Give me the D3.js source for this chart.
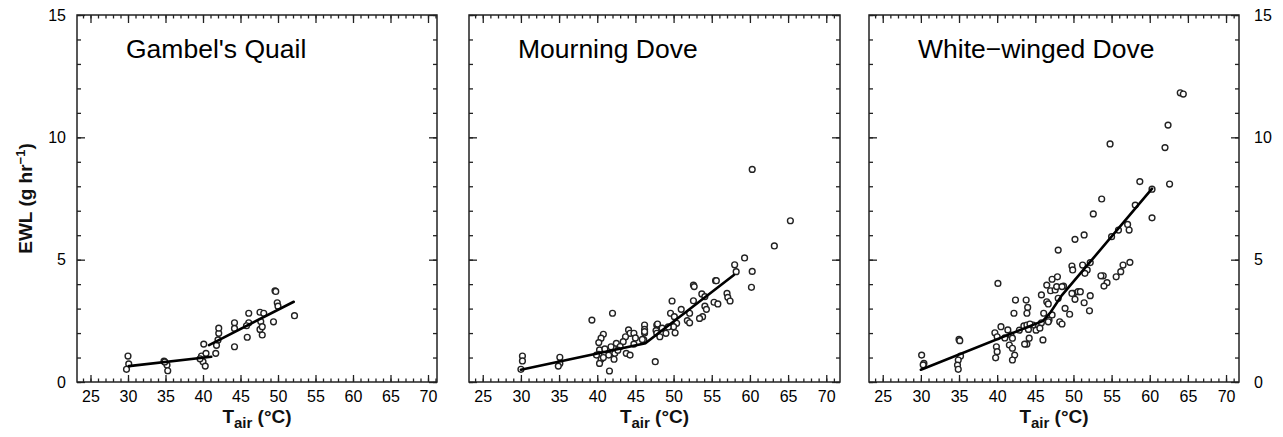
<!DOCTYPE html>
<html>
<head>
<meta charset="utf-8">
<script src="https://cdn.jsdelivr.net/npm/d3@7"></script>
<style>
  body { margin: 0; background: #fff; }
  svg { font-family: "Liberation Sans", Arial, sans-serif; }
  .frame { fill: none; stroke: #222; stroke-width: 1.5; }
  .tick line { stroke: #222; stroke-width: 1.3; }
  .domain { display: none; }
  .tick text { font-size: 16px; fill: #000; }
  .pt { fill: #fff; stroke: #222; stroke-width: 1.4; }
  .fit { fill: none; stroke: #000; stroke-width: 2.6; stroke-linecap: round; }
  .title { font-size: 26.5px; fill: #000; }
  .axis-title { font-size: 19px; font-weight: bold; fill: #111; }
</style>
</head>
<body>
<svg id="chart" width="1283" height="437"></svg>
<script>
// Species shown in the three panels
const species = ["Gambel's Quail", "Mourning Dove", "White\u2212winged Dove"];

const xTicks = [25, 30, 35, 40, 45, 50, 55, 60, 65, 70];
const yTicks = [0, 5, 10, 15];

// Gambel's Quail: air temperature (C) and evaporative water loss (g/hr)
const quailTair = [30.0, 30.1, 29.8, 34.8, 35.2, 35.3, 34.9, 40.1, 39.8, 40.4, 40.0, 40.3, 39.6,
  41.7, 41.8, 42.1, 42.1, 42.0, 44.2, 44.2, 44.2, 46.1, 45.9, 46.1, 45.8, 47.6, 47.6, 47.9, 48.1,
  47.7, 47.9, 49.4, 49.6, 49.7, 49.9, 50.0, 52.2];
const quailEWL = [1.06, 0.74, 0.52, 0.85, 0.69, 0.46, 0.82, 1.55, 1.06, 1.17, 0.83, 0.65, 0.95,
  1.17, 1.50, 1.99, 2.20, 1.72, 2.42, 1.44, 2.19, 2.81, 1.83, 2.42, 2.30, 2.85, 2.15, 1.92, 2.81,
  2.47, 2.26, 2.46, 3.73, 3.70, 3.24, 3.10, 2.71];

// Mourning Dove
const doveTair = [30.2, 30.2, 30.0, 35.1, 35.1, 34.9, 39.3, 42.0, 40.8, 40.5, 40.2, 40.3, 40.2,
  40.5, 40.3, 39.9, 41.6, 41.5, 42.2, 42.3, 41.8, 42.5, 43.8, 44.3, 44.1, 44.3, 44.8, 43.7, 43.4,
  46.2, 46.2, 46.2, 46.1, 47.6, 47.8, 47.7, 47.8, 60.3, 65.3, 63.2, 59.3, 58.0, 58.2, 60.3, 60.2,
  52.6, 52.7, 55.5, 55.6, 57.0, 57.1, 57.4, 55.3, 55.8, 53.7, 54.1, 54.1, 54.3, 53.8, 53.4, 52.6,
  51.0, 49.8, 49.6, 50.1, 52.1, 51.8, 52.1, 50.4, 50.2, 50.0, 47.9, 49.0, 48.2, 46.2, 45.9,
  48.5, 49.3, 45.0, 44.8, 43.0, 42.7, 41.0, 40.8];
const doveEWL = [1.06, 0.86, 0.52, 1.01, 0.76, 0.65, 2.53, 2.81, 1.95, 1.79, 1.61, 1.31, 1.13,
  0.93, 0.76, 1.10, 0.45, 1.10, 0.93, 1.17, 1.44, 1.58, 1.17, 1.10, 2.13, 1.99, 1.99, 1.85, 1.65,
  2.33, 2.15, 2.00, 1.72, 0.83, 2.33, 2.10, 1.99, 8.69, 6.59, 5.56, 5.07, 4.79, 4.51, 4.52, 3.87,
  3.96, 3.90, 4.14, 4.14, 3.62, 3.46, 3.31, 3.26, 3.19, 3.60, 3.49, 3.10, 2.97, 2.67, 2.60, 3.32,
  2.97, 3.31, 2.81, 2.67, 2.81, 2.51, 2.42, 2.40, 2.01, 2.26, 2.37, 1.99, 1.85, 2.06, 1.74,
  2.20, 2.25, 1.80, 1.55, 1.45, 1.30, 1.35, 1.00];

// White-winged Dove
const wingTair = [30.1, 30.4, 30.3, 35.0, 35.1, 35.2, 34.9, 34.8, 34.9, 40.1, 39.7, 40.0, 39.9,
  40.0, 39.8, 40.5, 41.4, 41.8, 42.0, 41.6, 42.0, 42.3, 42.0, 42.4, 42.2, 43.8, 44.0, 43.9, 43.5,
  44.1, 44.2, 43.9, 43.6, 46.0, 45.8, 46.5, 47.2, 47.9, 46.5, 46.7, 47.0, 47.6, 48.7, 46.1, 46.8,
  48.2, 48.5, 48.9, 54.8, 62.0, 62.4, 64.0, 64.4, 62.6, 58.7, 60.3, 60.3, 53.7, 52.6, 58.1, 57.1,
  57.3, 55.9, 55.0, 51.4, 50.2, 48.0, 57.4, 56.5, 56.2, 55.6, 53.9, 53.6, 54.4, 54.0, 49.8, 49.9,
  51.2, 51.8, 51.5, 52.2, 47.8, 48.5, 48.0, 50.0, 50.6, 50.9, 50.2, 52.2, 51.4, 52.1, 49.5, 47.2,
  46.7, 45.8, 45.1, 44.7, 45.6, 42.9, 41.0, 43.9, 44.3, 49.8];
const wingEWL = [1.10, 0.76, 0.70, 1.74, 1.69, 1.06, 0.90, 0.69, 0.52, 4.03, 2.01, 1.85, 1.44,
  1.24, 0.99, 2.26, 2.13, 1.92, 1.79, 1.51, 1.38, 1.10, 0.90, 3.35, 2.81, 3.35, 3.05, 2.81, 2.29,
  2.15, 1.79, 1.55, 1.55, 1.72, 3.56, 3.96, 4.20, 4.30, 3.28, 3.19, 3.73, 3.76, 3.92, 2.81, 2.53,
  2.46, 2.37, 3.01, 9.73, 9.58, 10.50, 11.82, 11.77, 8.09, 8.19, 7.88, 6.71, 7.48, 6.87, 7.23, 6.44,
  6.21, 6.21, 5.94, 6.01, 5.83, 5.39, 4.89, 4.78, 4.51, 4.30, 4.34, 4.34, 4.06, 3.92, 4.74, 4.58,
  4.78, 4.58, 4.44, 4.88, 3.90, 3.90, 3.42, 3.62, 3.69, 3.69, 3.38, 3.53, 3.24, 2.91, 2.77, 2.74,
  2.46, 2.42, 2.12, 2.33, 2.20, 2.12, 1.80, 2.33, 2.37, 3.62];

// Fitted broken-stick lines, one list of [Tair, EWL] segments per species
const quailFit = [[[30.1, 0.65], [41.1, 1.03]], [[40.8, 1.51], [52.1, 3.28]]];
const doveFit = [[[30.0, 0.50], [46.3, 1.58], [57.9, 4.37]]];
const wingFit = [[[30.0, 0.50], [46.0, 2.50], [47.0, 2.85], [48.5, 3.55], [60.3, 7.90]]];

// Panel layout (pixels)
const plotTop = 15, plotBottom = 382;
const panels = [
  { x0: 77, x1: 437, dom: [23.2, 71.2], tair: quailTair, ewl: quailEWL, fit: quailFit, labels: 'left', tx: 126 },
  { x0: 469, x1: 840, dom: [23.2, 71.8], tair: doveTair, ewl: doveEWL, fit: doveFit, labels: 'none', tx: 518 },
  { x0: 869, x1: 1239, dom: [23.2, 71.7], tair: wingTair, ewl: wingEWL, fit: wingFit, labels: 'right', tx: 918 }
];

const svg = d3.select('#chart');
const y = d3.scaleLinear().domain([0, 15]).range([plotBottom, plotTop]);
const minorX = d3.range(24, 72);
const minorY = d3.range(0, 16);

panels.forEach((p, i) => {
  const x = d3.scaleLinear().domain(p.dom).range([p.x0, p.x1]);
  const g = svg.append('g');
  const minorIn = minorX.filter(v => v > p.dom[0] && v < p.dom[1]);

  // Minor ticks (every unit), all four sides
  g.append('g').attr('transform', `translate(0,${plotBottom})`)
    .call(d3.axisBottom(x).tickValues(minorIn).tickSize(-3.5).tickFormat(''));
  g.append('g').attr('transform', `translate(0,${plotTop})`)
    .call(d3.axisTop(x).tickValues(minorIn).tickSize(-3.5).tickFormat(''));
  g.append('g').attr('transform', `translate(${p.x0},0)`)
    .call(d3.axisLeft(y).tickValues(minorY).tickSize(-4).tickFormat(''));
  g.append('g').attr('transform', `translate(${p.x1},0)`)
    .call(d3.axisRight(y).tickValues(minorY).tickSize(-4).tickFormat(''));

  // Major ticks
  g.append('g').attr('transform', `translate(0,${plotBottom})`)
    .call(d3.axisBottom(x).tickValues(xTicks).tickSize(-7).tickPadding(8.6));
  g.append('g').attr('transform', `translate(0,${plotTop})`)
    .call(d3.axisTop(x).tickValues(xTicks).tickSize(-8).tickFormat(''));
  g.append('g').attr('transform', `translate(${p.x0},0)`)
    .call(d3.axisLeft(y).tickValues(yTicks).tickSize(-8).tickPadding(11)
      .tickFormat(p.labels === 'left' ? d3.format('d') : ''));
  g.append('g').attr('transform', `translate(${p.x1},0)`)
    .call(d3.axisRight(y).tickValues(yTicks).tickSize(-8).tickPadding(15)
      .tickFormat(p.labels === 'right' ? d3.format('d') : ''));

  // Frame
  g.append('rect').attr('class', 'frame')
    .attr('x', p.x0).attr('y', plotTop)
    .attr('width', p.x1 - p.x0).attr('height', plotBottom - plotTop);

  // Points
  g.append('g').selectAll('circle').data(p.tair)
    .enter().append('circle')
      .attr('class', 'pt')
      .attr('cx', d => x(d))
      .attr('cy', (d, j) => y(p.ewl[j]))
      .attr('r', 2.9);

  // Fit lines
  const line = d3.line().x(d => x(d[0])).y(d => y(d[1]));
  g.append('g').selectAll('path').data(p.fit)
    .enter().append('path')
      .attr('class', 'fit')
      .attr('d', line);

  // Species title
  g.append('text').attr('class', 'title')
    .attr('x', p.tx).attr('y', 58)
    .text(species[i]);

  // x-axis title: T_air (°C)
  const xt = g.append('text').attr('class', 'axis-title')
    .attr('x', (p.x0 + p.x1) / 2).attr('y', 423)
    .attr('text-anchor', 'middle');
  xt.append('tspan').text('T');
  xt.append('tspan').attr('dy', 5).style('font-size', '15px').text('air');
  xt.append('tspan').attr('dy', -5).text(' (\u00B0C)');
});

// y-axis title: EWL (g hr^-1)
const yt = svg.append('text').attr('class', 'axis-title')
  .attr('transform', `translate(32,${(plotTop + plotBottom) / 2}) rotate(-90)`)
  .attr('text-anchor', 'middle');
yt.append('tspan').text('EWL (g hr');
yt.append('tspan').attr('dy', -7).style('font-size', '13px').text('\u22121');
yt.append('tspan').attr('dy', 7).text(')');
</script>
</body>
</html>
